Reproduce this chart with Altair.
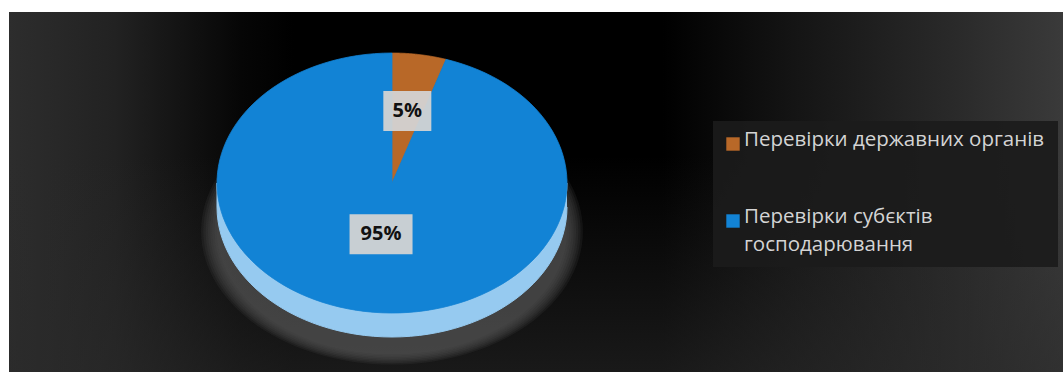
import altair as alt
import pandas as pd

# ---------------- data ----------------
categories = ["Перевірки державних органів", "Перевірки субєктів господарювання"]
shares = [5, 95]
legend_labels = ["Перевірки державних органів", "Перевірки субєктів\nгосподарювання"]
colors = ["#b86828", "#1283d5"]

# ---------------- layout (pixels) ----------------
W, H = 1054, 360
CX, CY = 383, 171       # pie centre inside plot area
RX, RY = 175, 130       # ellipse radii of the pie top
DEPTH = 24              # pie thickness
SIDE_COLOR = "#96caf0"

xdom = [-CX / RX, (W - CX) / RX]
ydom = [-(H - CY) / RY, CY / RY]
dz = DEPTH / RY


def X(f):
    return alt.X(f, type="quantitative", scale=alt.Scale(domain=xdom, nice=False, zero=False), axis=None)


def Y(f):
    return alt.Y(f, type="quantitative", scale=alt.Scale(domain=ydom, nice=False, zero=False), axis=None)


df = pd.DataFrame({"idx": list(range(len(categories))), "category": categories, "share": shares})
cscale = alt.Scale(domain=categories, range=colors)

base = (
    alt.Chart(df)
    .transform_joinaggregate(total="sum(share)")
    .transform_window(cum="sum(share)", sort=[alt.SortField("idx")], frame=[None, 0])
    .transform_calculate(
        a1="2*PI*datum.cum/datum.total",
        a0="2*PI*(datum.cum-datum.share)/datum.total",
    )
)

one = pd.DataFrame({"a": [0]})

# background: horizontal gradient + vertical shading overlay
bg_h = alt.Chart(one).mark_rect(
    fill=alt.LinearGradient(
        gradient="linear", x1=0, y1=0, x2=1, y2=0,
        stops=[
            alt.GradientStop(color="#2d2d2d", offset=0),
            alt.GradientStop(color="#222222", offset=0.1),
            alt.GradientStop(color="#060606", offset=0.22),
            alt.GradientStop(color="#000000", offset=0.27),
            alt.GradientStop(color="#000000", offset=0.62),
            alt.GradientStop(color="#151515", offset=0.75),
            alt.GradientStop(color="#2a2a2a", offset=0.9),
            alt.GradientStop(color="#3a3a3a", offset=1),
        ],
    ),
    stroke=None,
).encode(x=alt.value(0), x2=alt.value(W), y=alt.value(0), y2=alt.value(H))

bg_v = alt.Chart(one).mark_rect(
    fill=alt.LinearGradient(
        gradient="linear", x1=0, y1=0, x2=0, y2=1,
        stops=[
            alt.GradientStop(color="rgba(42,42,42,0)", offset=0),
            alt.GradientStop(color="rgba(42,42,42,0)", offset=0.4),
            alt.GradientStop(color="rgba(42,42,42,0.6)", offset=1),
        ],
    ),
    stroke=None,
).encode(x=alt.value(0), x2=alt.value(W), y=alt.value(0), y2=alt.value(H))

# soft halo below the pie (stacked translucent ellipses)
halo = (
    base.transform_aggregate(n="count()")
    .transform_calculate(k="sequence(0, 8)")
    .transform_flatten(["k"])
    .transform_calculate(seq="sequence(0, 121)")
    .transform_flatten(["seq"])
    .transform_calculate(
        ang="2*PI*datum.seq/120",
        px="(1.0 + 0.013*datum.k) * sin(datum.ang)",
        py="(0.95 + 0.011*datum.k) * cos(datum.ang) - 0.37",
    )
    .mark_line(fill="#555555", fillOpacity=0.15, strokeWidth=0)
    .encode(x=X("px"), y=Y("py"), order="seq:Q", detail="k:N")
)

# side of the pie (front half of cylinder)
side = (
    base.transform_aggregate(n="count()")
    .transform_calculate(seq="sequence(0, 122)")
    .transform_flatten(["seq"])
    .transform_calculate(
        ang="datum.seq <= 60 ? PI/2 + PI*datum.seq/60 : 3*PI/2 - PI*(datum.seq-61)/60",
        off=f"datum.seq <= 60 ? {dz} : 0",
        px="sin(datum.ang)",
        py="cos(datum.ang) - datum.off",
    )
    .mark_line(fill=SIDE_COLOR, stroke=SIDE_COLOR, strokeWidth=1)
    .encode(x=X("px"), y=Y("py"), order="seq:Q")
)

# top face slices
slices = (
    base.transform_calculate(seq="sequence(0, 123)")
    .transform_flatten(["seq"])
    .transform_calculate(
        t="clamp(datum.seq - 1, 0, 120)/120",
        ang="datum.a0 + (datum.a1 - datum.a0)*datum.t",
        isc="datum.seq == 0 || datum.seq == 122",
        px="datum.isc ? 0 : sin(datum.ang)",
        py="datum.isc ? 0 : cos(datum.ang)",
    )
    .mark_line(strokeWidth=0.8, filled=True)
    .encode(
        x=X("px"),
        y=Y("py"),
        order="seq:Q",
        fill=alt.Fill("category:N", scale=cscale, legend=None),
        stroke=alt.Stroke("category:N", scale=cscale, legend=None),
    )
)

# data labels
lab = base.transform_calculate(
    label="datum.share + '%'",
    m="(datum.a0 + datum.a1)/2",
    r="datum.share/datum.total < 0.5 ? 0.56 : 0.40",
    lx="datum.r*sin(datum.m)",
    ly="datum.r*cos(datum.m)",
    hw=f"(7.5*length(datum.label) + 9)/{RX}",
    hh=f"20/{RY}",
    xl="datum.lx - datum.hw",
    xr="datum.lx + datum.hw",
    yb="datum.ly - datum.hh",
    yt="datum.ly + datum.hh",
)
lab_box = lab.mark_rect(fill="#d3d3d3", stroke=None, opacity=0.95).encode(
    x=X("xl"), x2="xr", y=Y("yb"), y2="yt"
)
lab_txt = lab.mark_text(font="Open Sans", fontSize=20, fontWeight="bold", color="#111111").encode(
    x=X("lx"), y=Y("ly"), text="label:N"
)

pie = alt.layer(bg_h, bg_v, halo, side, slices, lab_box, lab_txt)

# legend
leg_df = pd.DataFrame({"slot": list(range(len(categories))), "category": categories, "text": legend_labels})
yleg = alt.Y("slot:Q", scale=alt.Scale(domain=[0, 1], range=[132, 209]), axis=None)
leg_box = alt.Chart(one).mark_rect(fill="#1b1b1b", opacity=0.92, stroke=None).encode(
    x=alt.value(704), x2=alt.value(1049), y=alt.value(109), y2=alt.value(255)
)
leg_sym = alt.Chart(leg_df).mark_square(size=180, opacity=1).encode(
    x=alt.value(724), y=yleg, color=alt.Color("category:N", scale=cscale, legend=None)
)
leg_txt = alt.Chart(leg_df).mark_text(
    font="Open Sans", fontSize=20.5, color="#d4d4d4", align="left", baseline="top",
    lineBreak="\n", lineHeight=28, dy=-14,
).encode(x=alt.value(735), y=yleg, text="text:N")

chart = (
    alt.layer(pie, leg_box, leg_sym, leg_txt)
    .resolve_scale(x="independent", y="independent", color="independent", fill="independent", stroke="independent")
    .properties(
        width=W, height=H, background="white",
        padding={"left": 9, "top": 12, "right": 0, "bottom": 0},
        autosize=alt.AutoSizeParams(type="none"),
    )
    .configure_view(stroke=None)
)

chart.save("out.html", embed_options={"renderer": "svg", "actions": False})
